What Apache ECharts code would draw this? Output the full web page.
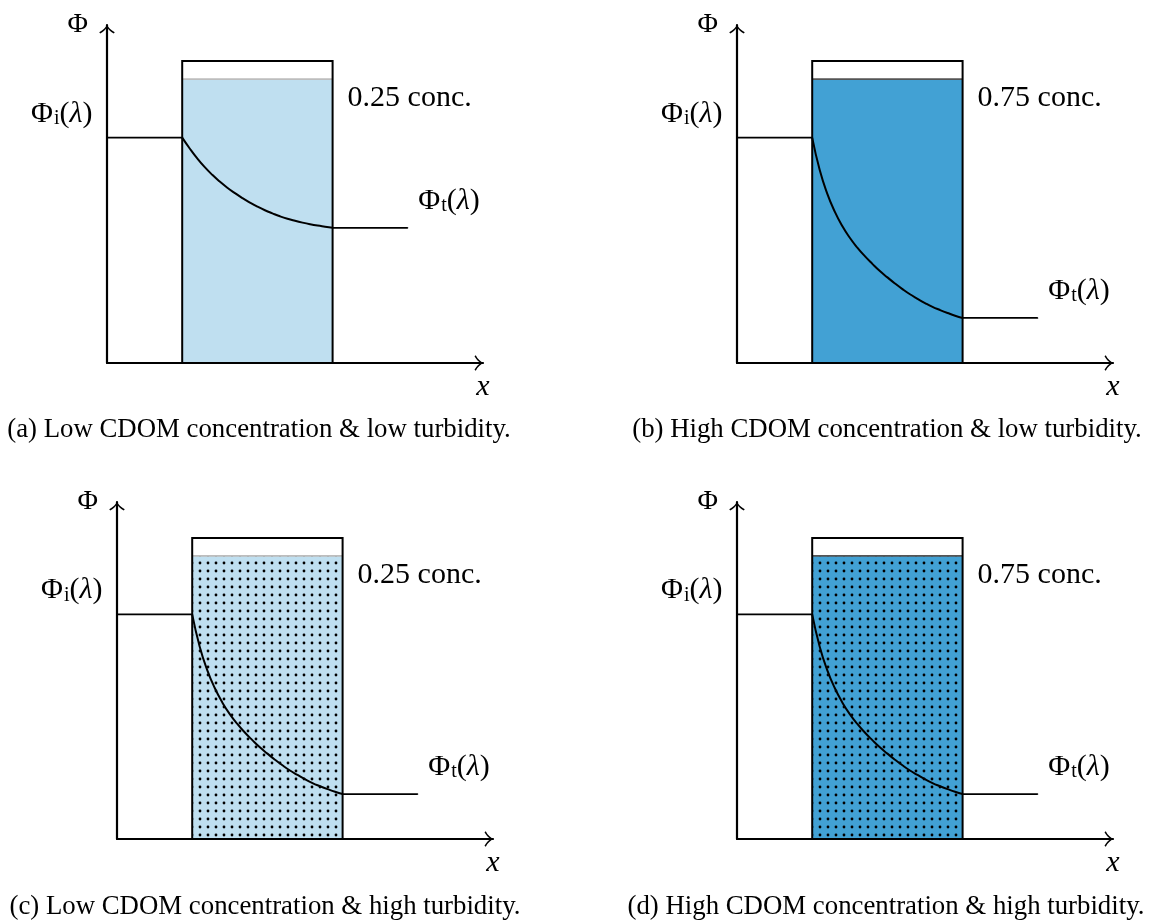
<!DOCTYPE html>
<html>
<head>
<meta charset="utf-8">
<script src="https://cdn.jsdelivr.net/npm/echarts@6/dist/echarts.min.js"></script>
<style>
  html, body { margin: 0; padding: 0; background: #ffffff; }
  #chart { width: 1151px; height: 921px; }
</style>
</head>
<body>
<div id="chart"></div>
<script>
// ---- Panel content -------------------------------------------------------
const captions = [
  '(a) Low CDOM concentration & low turbidity.',
  '(b) High CDOM concentration & low turbidity.',
  '(c) Low CDOM concentration & high turbidity.',
  '(d) High CDOM concentration & high turbidity.'
];
const concLabels = ['0.25 conc.', '0.75 conc.', '0.25 conc.', '0.75 conc.'];
const highConc = [false, true, false, true];
const turbid = [false, false, true, true];

// Tank walls (x) and heights (Φ units): rim and water surface
const tankWalls = [1, 3];
const tankRim = 1.34;
const waterLevel = 1.26;

// Incident flux entering the medium
const incident = [[0, 1], [1, 1]];

// Flux inside the medium, weak attenuation (panel a)
const curveLow = [
  [1.0, 1.000], [1.1, 0.952], [1.2, 0.908], [1.3, 0.869], [1.4, 0.835], [1.5, 0.805],
  [1.6, 0.778], [1.7, 0.754], [1.8, 0.732], [1.9, 0.712], [2.0, 0.694], [2.1, 0.678],
  [2.2, 0.664], [2.3, 0.651], [2.4, 0.640], [2.5, 0.631], [2.6, 0.623], [2.7, 0.616],
  [2.8, 0.610], [2.9, 0.605], [3.0, 0.600]
];
// Flux inside the medium, strong attenuation (panels b, c, d)
const curveHigh = [
  [1.0, 1.000], [1.1, 0.856], [1.2, 0.752], [1.3, 0.672], [1.4, 0.608], [1.5, 0.556],
  [1.6, 0.512], [1.7, 0.474], [1.8, 0.440], [1.9, 0.408], [2.0, 0.380], [2.1, 0.353],
  [2.2, 0.328], [2.3, 0.305], [2.4, 0.285], [2.5, 0.266], [2.6, 0.249], [2.7, 0.235],
  [2.8, 0.222], [2.9, 0.210], [3.0, 0.200]
];
// Transmitted flux leaving the medium
const transmittedLow = [[3, 0.6], [4, 0.6]];
const transmittedHigh = [[3, 0.2], [4, 0.2]];

const curves = [curveLow, curveHigh, curveHigh, curveHigh];
const transmitted = [transmittedLow, transmittedHigh, transmittedHigh, transmittedHigh];

// ---- Styling -------------------------------------------------------------
const SERIF = '"Liberation Serif", "Times New Roman", serif';
const MATH = 30;
const CAPTION = 26.8;
const fillLow = '#bfdff0';
const fillHigh = '#42a1d4';
const surfaceLow = '#bdbdbd';
const surfaceHigh = '#555555';

const grids = [
  { left: 107, top: 25, width: 376, height: 338 },
  { left: 737, top: 25, width: 376, height: 338 },
  { left: 117, top: 502, width: 376, height: 337 },
  { left: 737, top: 502, width: 376, height: 337 }
];
const captionPos = [[259, 430], [887, 430], [265, 907], [886, 907]];

// Open arrow head pointing up
const arrowHead = 'path://M8,0 C9.3,3 12,6 16,8 L15,9.3 C12,7.6 9.5,5.4 8,2.8 C6.5,5.4 4,7.6 1,9.3 L0,8 C4,6 6.7,3 8,0 Z';

// Dotted texture used for the turbid medium
function dotTile(bg) {
  const c = document.createElement('canvas');
  c.width = 8; c.height = 8;
  const g = c.getContext('2d');
  g.fillStyle = bg; g.fillRect(0, 0, 8, 8);
  g.fillStyle = '#000';
  g.beginPath(); g.arc(4, 4, 1.4, 0, Math.PI * 2); g.fill();
  return c;
}

const mathRich = {
  r: { fontFamily: SERIF, fontSize: MATH, color: '#000' },
  s: { fontFamily: SERIF, fontSize: 20, color: '#000', verticalAlign: 'bottom', padding: [6, 0, 0, 1] },
  l: { fontFamily: SERIF, fontSize: MATH, fontStyle: 'italic', color: '#000' }
};

function axisLine() {
  return {
    show: true,
    onZero: false,
    symbol: ['none', arrowHead],
    symbolSize: [16, 9],
    symbolOffset: [0, -4],
    lineStyle: { color: '#000', width: 2.2 }
  };
}

const option = {
  animation: false,
  backgroundColor: '#ffffff',
  grid: grids.map(g => Object.assign({ outerBoundsMode: 'none', containLabel: false }, g)),
  xAxis: grids.map((g, i) => ({
    gridIndex: i, type: 'value', min: 0, max: 5,
    axisLine: axisLine(), axisTick: { show: false }, axisLabel: { show: false },
    splitLine: { show: false },
    name: 'x', nameLocation: 'end', nameGap: 0,
    nameTextStyle: {
      fontFamily: SERIF, fontSize: MATH, fontStyle: 'italic', color: '#000',
      align: 'center', verticalAlign: 'top', padding: [9, 0, 0, 0]
    }
  })),
  yAxis: grids.map((g, i) => ({
    gridIndex: i, type: 'value', min: 0, max: 1.5,
    axisLine: axisLine(), axisTick: { show: false }, axisLabel: { show: false },
    splitLine: { show: false },
    name: 'Φ', nameLocation: 'end', nameGap: 0,
    nameTextStyle: {
      fontFamily: SERIF, fontSize: 28, color: '#000',
      align: 'right', verticalAlign: 'middle', padding: [0, 19, 0, 0]
    }
  })),
  graphic: captions.map((t, i) => ({
    type: 'text', x: captionPos[i][0], y: captionPos[i][1],
    style: { text: t, fontFamily: SERIF, fontSize: CAPTION, fill: '#000', align: 'center', verticalAlign: 'middle' }
  })),
  series: []
};

for (let i = 0; i < 4; i++) {
  const bg = highConc[i] ? fillHigh : fillLow;
  const surface = highConc[i] ? surfaceHigh : surfaceLow;
  const tile = turbid[i] ? dotTile(bg) : null;

  // Water body with its surface line and concentration label
  option.series.push({
    type: 'custom', name: 'water', xAxisIndex: i, yAxisIndex: i, z: 1,
    data: [[tankWalls[0], tankWalls[1], 0, waterLevel]],
    renderItem: (params, api) => {
      const tl = api.coord([api.value(0), api.value(3)]);
      const br = api.coord([api.value(1), api.value(2)]);
      const fill = tile
        ? { image: tile, repeat: 'repeat', x: Math.round(tl[0]) + 4, y: Math.round(tl[1]) + 3 }
        : bg;
      return {
        type: 'group',
        children: [
          { type: 'rect', shape: { x: tl[0], y: tl[1], width: br[0] - tl[0], height: br[1] - tl[1] }, style: { fill: fill } },
          { type: 'line', shape: { x1: tl[0], y1: tl[1], x2: br[0], y2: tl[1] }, style: { stroke: surface, lineWidth: 1.8 } },
          { type: 'text', x: br[0] + 15, y: tl[1] + 19,
            style: { text: concLabels[i], fontFamily: SERIF, fontSize: MATH, fill: '#000', align: 'left', verticalAlign: 'middle' } }
        ]
      };
    }
  });

  // Tank outline
  option.series.push({
    type: 'custom', name: 'tank', xAxisIndex: i, yAxisIndex: i, z: 2,
    data: [[tankWalls[0], tankWalls[1], 0, tankRim]],
    renderItem: (params, api) => {
      const tl = api.coord([api.value(0), api.value(3)]);
      const br = api.coord([api.value(1), api.value(2)]);
      return { type: 'rect', shape: { x: tl[0], y: tl[1], width: br[0] - tl[0], height: br[1] - tl[1] },
               style: { fill: 'none', stroke: '#000', lineWidth: 2 } };
    }
  });

  // Incident flux with its label
  option.series.push({
    type: 'line', name: 'incident', xAxisIndex: i, yAxisIndex: i, z: 3,
    symbol: 'circle', symbolSize: 1, itemStyle: { color: '#000' },
    lineStyle: { color: '#000', width: 1.8 },
    data: incident.map((p, k) => k === 0 ? {
      value: p,
      label: { show: true, position: 'left', distance: 0, offset: [-14, -24],
               formatter: '{r|Φ}{s|i}{r|(}{l|λ}{r|)}', rich: mathRich }
    } : p)
  });

  // Attenuation inside the medium
  option.series.push({
    type: 'line', name: 'medium', xAxisIndex: i, yAxisIndex: i, z: 3,
    symbol: 'none', smooth: 0.5,
    lineStyle: { color: '#000', width: 2 },
    data: curves[i]
  });

  // Transmitted flux with its label
  const tr = transmitted[i];
  option.series.push({
    type: 'line', name: 'transmitted', xAxisIndex: i, yAxisIndex: i, z: 3,
    symbol: 'circle', symbolSize: 1, itemStyle: { color: '#000' },
    lineStyle: { color: '#000', width: 1.8 },
    data: tr.map((p, k) => k === tr.length - 1 ? {
      value: p,
      label: { show: true, position: 'right', distance: 0, offset: [10, -27],
               formatter: '{r|Φ}{s|t}{r|(}{l|λ}{r|)}', rich: mathRich }
    } : p)
  });
}

const chart = echarts.init(document.getElementById('chart'), null, { renderer: 'canvas' });
chart.setOption(option);
</script>
</body>
</html>
